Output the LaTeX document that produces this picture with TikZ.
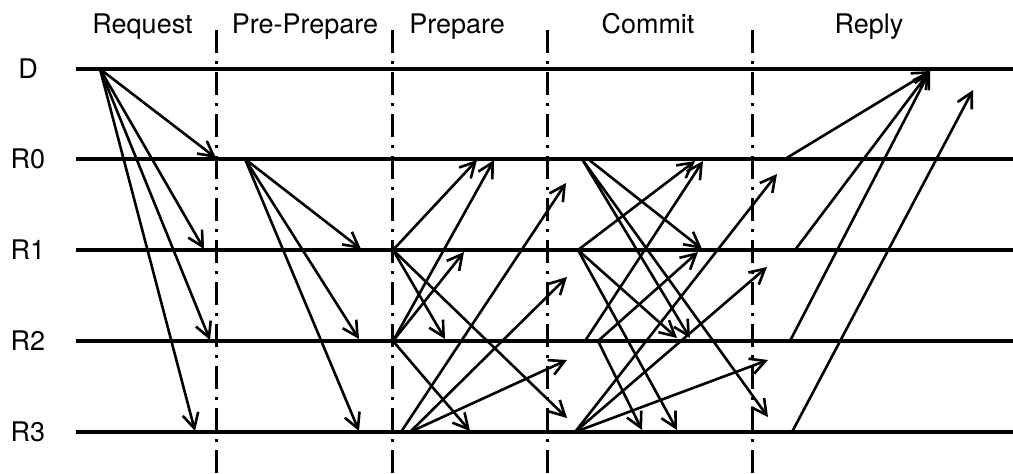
\documentclass[tikz,border=0pt]{standalone}
\usepackage{fontspec}
\setmainfont{TeX Gyre Heros}
\usetikzlibrary{arrows.meta}
\begin{document}
\begin{tikzpicture}[x=1pt,y=-1pt,
  lane/.style={line width=3.2pt},
  phase/.style={line width=3pt, dash pattern=on 23pt off 8pt on 3pt off 8pt},
  msg/.style={line width=2.6pt, -{Straight Barb[length=15pt,width=16pt]}},
  lbl/.style={font=\fontsize{27}{30}\selectfont, inner sep=0pt},
]
\useasboundingbox (0,0) rectangle (1013,474);

% phase titles
\node[lbl, anchor=base] (tReq) at (142.5,33) {Request};
\node[lbl, anchor=base] (tPP)  at (305,33) {Pre-Prepare};
\node[lbl, anchor=base] (tPr)  at (457,33) {Prepare};
\node[lbl, anchor=base] (tCo)  at (648,33) {Commit};
\node[lbl, anchor=base] (tRe)  at (869,33) {Reply};

% lane labels
\node[lbl] (lD)  at (28,69)  {D};
\node[lbl] (lR0) at (28,159) {R0};
\node[lbl] (lR1) at (28,250) {R1};
\node[lbl] (lR2) at (28,341) {R2};
\node[lbl] (lR3) at (28,432) {R3};

% lanes
\coordinate (Da) at (76,69);   \coordinate (Db) at (1013,69);
\coordinate (R0a) at (76,159); \coordinate (R0b) at (1013,159);
\coordinate (R1a) at (76,250); \coordinate (R1b) at (1013,250);
\coordinate (R2a) at (76,341); \coordinate (R2b) at (1013,341);
\coordinate (R3a) at (76,432); \coordinate (R3b) at (1013,432);
\foreach \l in {D,R0,R1,R2,R3} \draw[lane] (\l a) -- (\l b);

% phase separators
\coordinate (v1t) at (216,30); \coordinate (v1b) at (216,474);
\coordinate (v2t) at (392,30); \coordinate (v2b) at (392,474);
\coordinate (v3t) at (547,30); \coordinate (v3b) at (547,474);
\coordinate (v4t) at (752,30); \coordinate (v4b) at (752,474);
\foreach \v in {v1,v2,v3,v4} \draw[phase] (\v t) -- (\v b);

% Request
\coordinate (rqs) at (100,69);
\coordinate (rq0) at (216,158);
\coordinate (rq1) at (204,249);
\coordinate (rq2) at (210,340);
\coordinate (rq3) at (195,431);
\foreach \t in {rq0,rq1,rq2,rq3} \draw[msg] (rqs) -- (\t);

% Pre-Prepare
\coordinate (pps) at (245,159);
\coordinate (pp1) at (361,249);
\coordinate (pp2) at (359,339);
\coordinate (pp3) at (359,431);
\foreach \t in {pp1,pp2,pp3} \draw[msg] (pps) -- (\t);

% Prepare
\coordinate (pa1) at (393,250);
\coordinate (pa10) at (477,160);
\coordinate (pa12) at (445,339);
\coordinate (pa13) at (567,418);
\coordinate (pa2) at (393,341);
\coordinate (pa20) at (494,160);
\coordinate (pa21) at (464,252);
\coordinate (pa23) at (470,431);
\coordinate (pa3) at (401,432);
\coordinate (pa3b) at (410,432);
\coordinate (pa30) at (566,183);
\coordinate (pa31) at (567,277);
\coordinate (pa32) at (567,360);
\foreach \t in {pa10,pa12,pa13} \draw[msg] (pa1) -- (\t);
\foreach \t in {pa20,pa21,pa23} \draw[msg] (pa2) -- (\t);
\draw[msg] (pa3) -- (pa30);
\foreach \t in {pa31,pa32} \draw[msg] (pa3b) -- (\t);

% Commit
\coordinate (cm0) at (582,159);
\coordinate (cm0b) at (588,159);
\coordinate (cm01) at (702,249);
\coordinate (cm02) at (690,338);
\coordinate (cm03) at (768,417);
\coordinate (cm1) at (578,250);
\coordinate (cm10) at (695,161);
\coordinate (cm12) at (677,338);
\coordinate (cm13) at (677,430);
\coordinate (cm2) at (585,341);
\coordinate (cm2b) at (598,341);
\coordinate (cm20) at (703,161);
\coordinate (cm21) at (698,252);
\coordinate (cm23) at (642,430);
\coordinate (cm3) at (575,432);
\coordinate (cm30) at (777,174);
\coordinate (cm31) at (767,267);
\coordinate (cm32) at (768,360);
\draw[msg] (cm0b) -- (cm01);
\foreach \t in {cm02,cm03} \draw[msg] (cm0) -- (\t);
\foreach \t in {cm10,cm12,cm13} \draw[msg] (cm1) -- (\t);
\draw[msg] (cm2) -- (cm20);
\foreach \t in {cm21,cm23} \draw[msg] (cm2b) -- (\t);
\foreach \t in {cm30,cm31,cm32} \draw[msg] (cm3) -- (\t);

% Reply
\coordinate (rp0) at (785,159);
\coordinate (rp1) at (795,250);
\coordinate (rp2) at (790,341);
\coordinate (rp3) at (792,432);
\coordinate (rpD) at (930,71);
\coordinate (rpx) at (973,90);
\foreach \s in {rp0,rp1,rp2} \draw[msg] (\s) -- (rpD);
\draw[msg] (rp3) -- (rpx);
\end{tikzpicture}
\end{document}
